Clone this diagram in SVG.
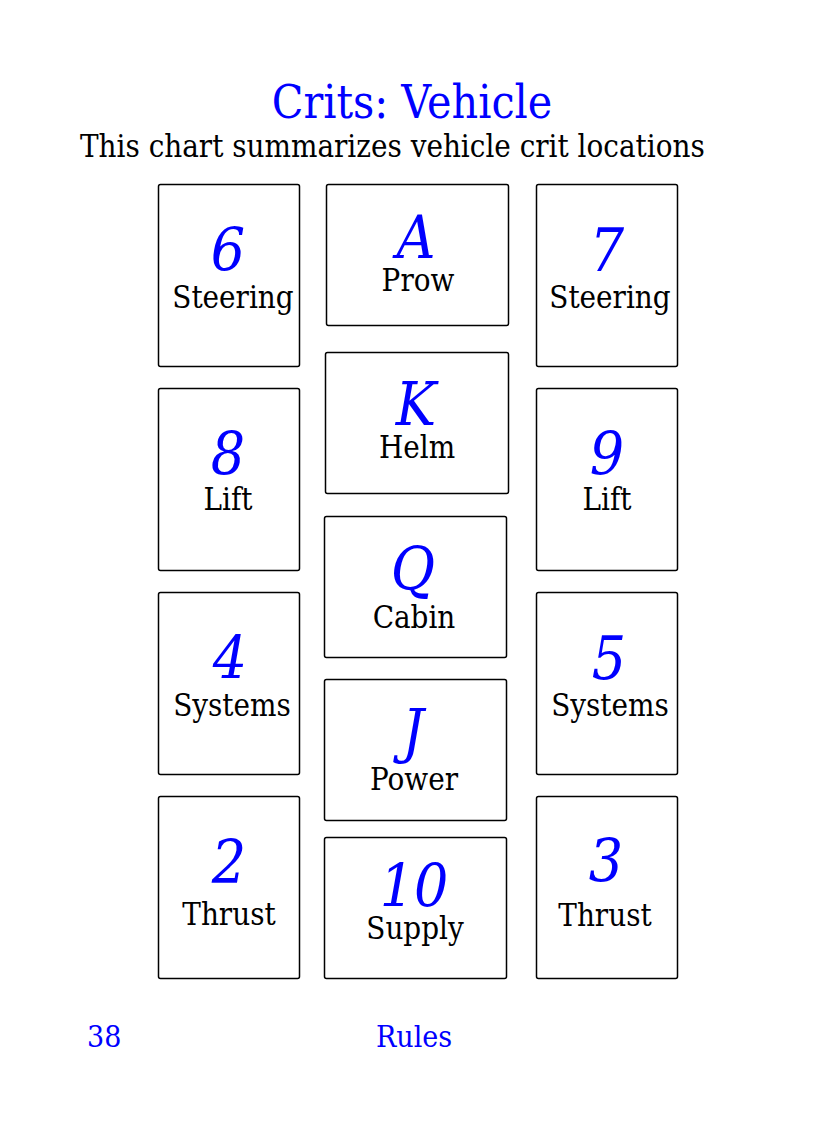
<svg xmlns="http://www.w3.org/2000/svg" width="825" height="1125" viewBox="0 0 825 1125">
<style>
.box{fill:#fff;stroke:#000;stroke-width:1.5}
.num{font-family:"DejaVu Serif Condensed","DejaVu Serif",serif;font-style:italic;font-size:60px;fill:#0000ff;text-anchor:middle}
.lbl{font-family:"DejaVu Serif Condensed","DejaVu Serif",serif;font-size:31px;fill:#000;text-anchor:middle}
.title{font-family:"DejaVu Serif Condensed","DejaVu Serif",serif;font-size:46px;fill:#0000ff;text-anchor:middle}
.sub{font-family:"DejaVu Serif Condensed","DejaVu Serif",serif;font-size:31px;fill:#000}
.foot{font-family:"DejaVu Serif Condensed","DejaVu Serif",serif;font-size:30px;fill:#0000ff}
</style>
<rect width="825" height="1125" fill="#fff"/>
<text class="title" x="412" y="118">Crits: Vehicle</text>
<text class="sub" x="80" y="157">This chart summarizes vehicle crit locations</text>
<g id="n6"><rect class="box" x="158.5" y="184.5" width="141" height="182" rx="2"/><text class="num" x="228" y="271">6</text><text class="lbl" x="233" y="308">Steering</text></g>
<g id="nA"><rect class="box" x="326.5" y="184.5" width="182" height="141" rx="2"/><text class="num" x="416" y="258">A</text><text class="lbl" x="418" y="291">Prow</text></g>
<g id="n7"><rect class="box" x="536.5" y="184.5" width="141" height="182" rx="2"/><text class="num" x="607" y="271">7</text><text class="lbl" x="610" y="308">Steering</text></g>
<g id="nK"><rect class="box" x="325.5" y="352.5" width="183" height="141" rx="2"/><text class="num" x="416" y="425">K</text><text class="lbl" x="417" y="458">Helm</text></g>
<g id="n8"><rect class="box" x="158.5" y="388.5" width="141" height="182" rx="2"/><text class="num" x="228" y="475">8</text><text class="lbl" x="228" y="510">Lift</text></g>
<g id="n9"><rect class="box" x="536.5" y="388.5" width="141" height="182" rx="2"/><text class="num" x="607" y="475">9</text><text class="lbl" x="607" y="510">Lift</text></g>
<g id="nQ"><rect class="box" x="324.5" y="516.5" width="182" height="141" rx="2"/><text class="num" x="413" y="590">Q</text><text class="lbl" x="414" y="628">Cabin</text></g>
<g id="n4"><rect class="box" x="158.5" y="592.5" width="141" height="182" rx="2"/><text class="num" x="230" y="679">4</text><text class="lbl" x="232" y="716">Systems</text></g>
<g id="n5"><rect class="box" x="536.5" y="592.5" width="141" height="182" rx="2"/><text class="num" x="609" y="679">5</text><text class="lbl" x="610" y="716">Systems</text></g>
<g id="nJ"><rect class="box" x="324.5" y="679.5" width="182" height="141" rx="2"/><text class="num" x="413" y="752">J</text><text class="lbl" x="414" y="790">Power</text></g>
<g id="n2"><rect class="box" x="158.5" y="796.5" width="141" height="182" rx="2"/><text class="num" x="229" y="883">2</text><text class="lbl" x="229" y="925">Thrust</text></g>
<g id="n10"><rect class="box" x="324.5" y="837.5" width="182" height="141" rx="2"/><text class="num" x="414" y="907">10</text><text class="lbl" x="415" y="939">Supply</text></g>
<g id="n3"><rect class="box" x="536.5" y="796.5" width="141" height="182" rx="2"/><text class="num" x="606" y="882">3</text><text class="lbl" x="605" y="926">Thrust</text></g>
<g id="connectors"></g>
<text class="foot" x="87" y="1047">38</text>
<text class="foot" x="376" y="1047">Rules</text>
</svg>
